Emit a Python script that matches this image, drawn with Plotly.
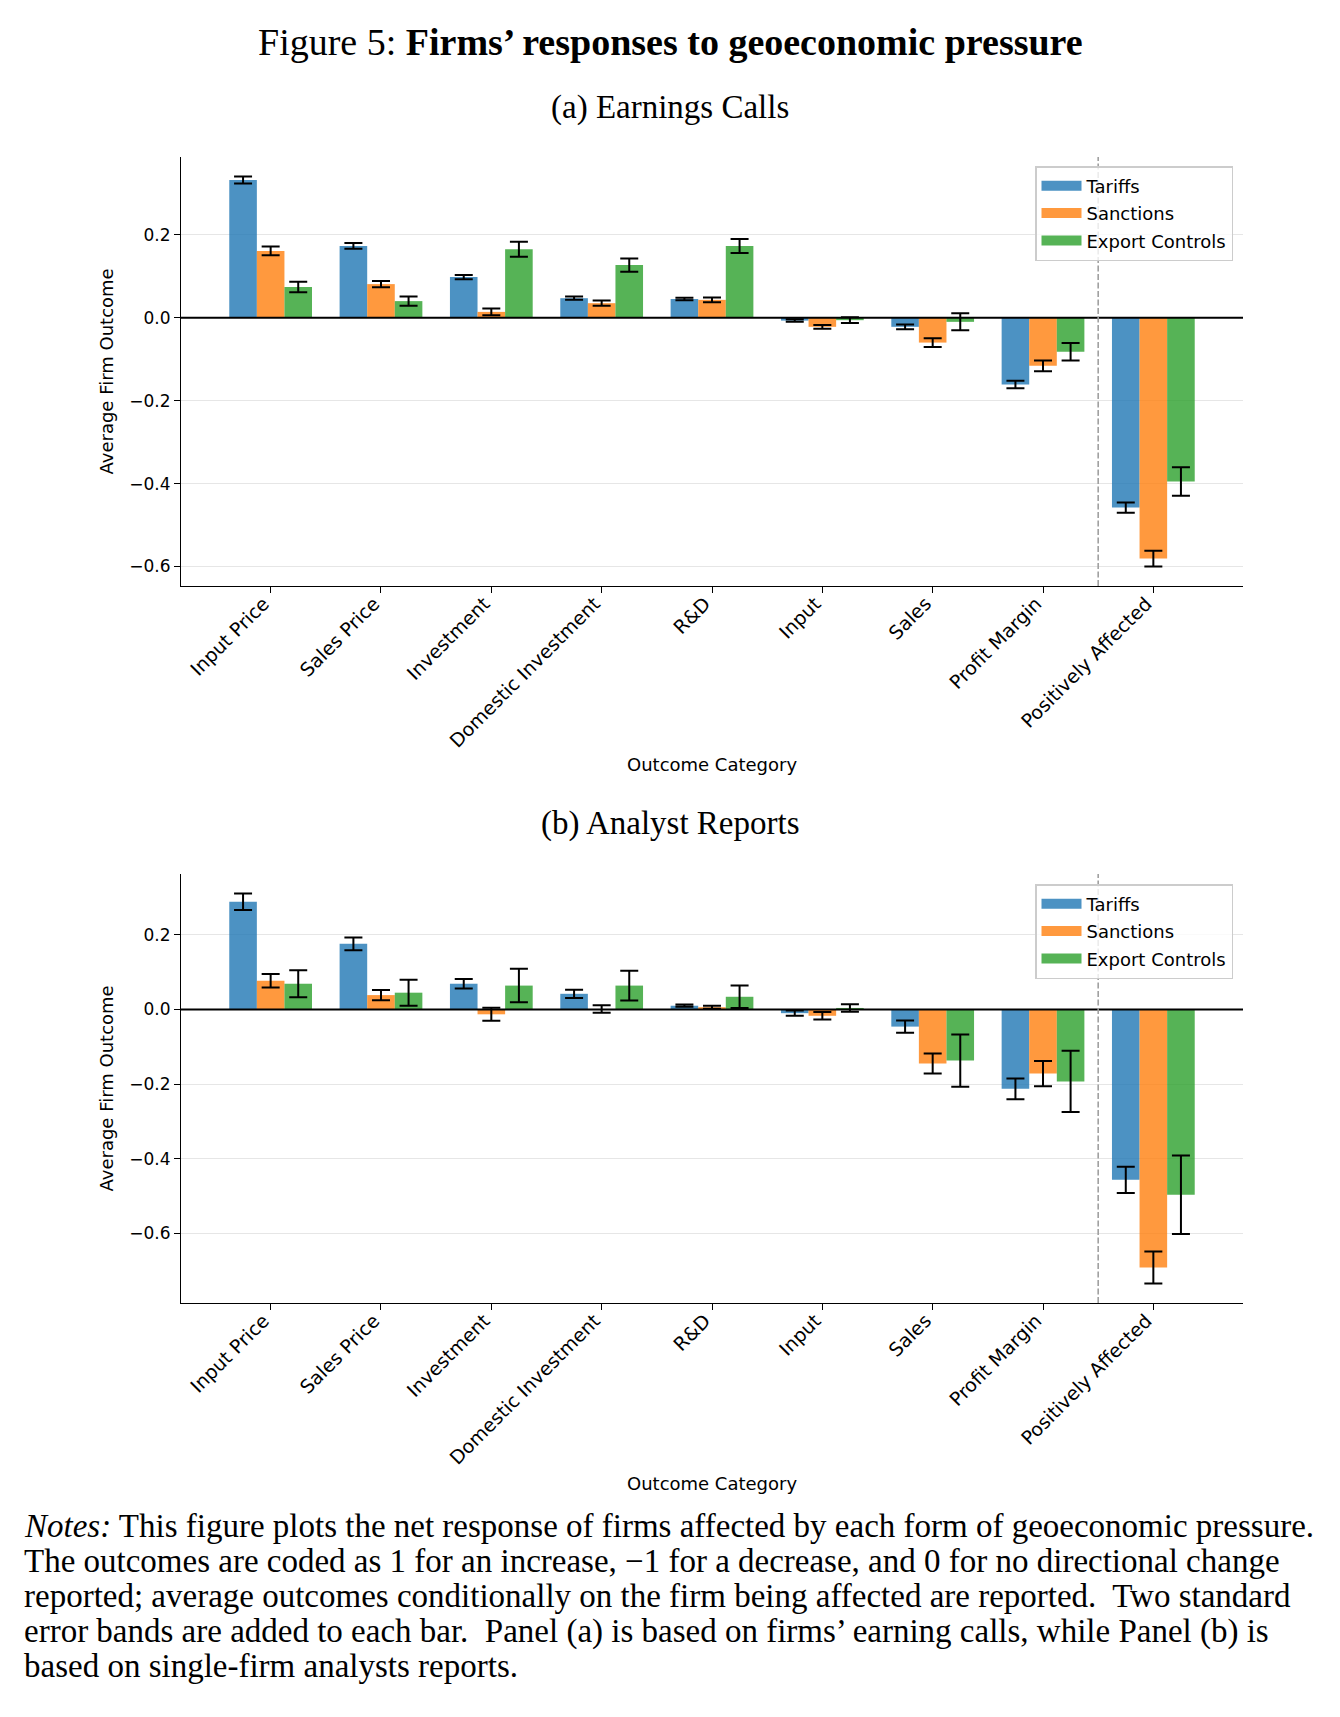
import plotly.graph_objects as go

# categories on the x axis
categories = ["Input Price", "Sales Price", "Investment", "Domestic Investment", "R&D",
              "Input", "Sales", "Profit Margin", "Positively Affected"]
series_names = ["Tariffs", "Sanctions", "Export Controls"]

# panel (a) earnings calls: means and two-s.e. half widths
tariffs_a = [0.332, 0.173, 0.098, 0.047, 0.045, -0.007, -0.022, -0.161, -0.458]
tariffs_a_err = [0.0085, 0.007, 0.005, 0.004, 0.003, 0.003, 0.0056, 0.009, 0.0125]
sanctions_a = [0.161, 0.081, 0.014, 0.035, 0.043, -0.022, -0.060, -0.116, -0.581]
sanctions_a_err = [0.0105, 0.0076, 0.008, 0.0064, 0.0056, 0.0045, 0.0104, 0.013, 0.019]
export_a = [0.074, 0.040, 0.165, 0.127, 0.173, -0.006, -0.010, -0.082, -0.395]
export_a_err = [0.0125, 0.011, 0.018, 0.016, 0.017, 0.007, 0.0205, 0.021, 0.0345]

# panel (b) analyst reports
tariffs_b = [0.289, 0.176, 0.069, 0.042, 0.010, -0.010, -0.046, -0.213, -0.457]
tariffs_b_err = [0.022, 0.017, 0.0125, 0.011, 0.003, 0.007, 0.0166, 0.028, 0.035]
sanctions_b = [0.077, 0.0385, -0.013, 0.001, 0.006, -0.017, -0.145, -0.172, -0.692]
sanctions_b_err = [0.018, 0.014, 0.0175, 0.010, 0.004, 0.010, 0.027, 0.034, 0.043]
export_b = [0.069, 0.045, 0.064, 0.064, 0.034, 0.004, -0.137, -0.193, -0.497]
export_b_err = [0.036, 0.035, 0.045, 0.040, 0.030, 0.010, 0.070, 0.082, 0.105]

y_ticks = [-0.6, -0.4, -0.2, 0.0, 0.2]

notes_lines = [
    "<i>Notes:</i> This figure plots the net response of firms affected by each form of geoeconomic pressure.",
    "The outcomes are coded as 1 for an increase, \u22121 for a decrease, and 0 for no directional change",
    "reported; average outcomes conditionally on the firm being affected are reported.  Two standard",
    "error bands are added to each bar.  Panel (a) is based on firms\u2019 earning calls, while Panel (b) is",
    "based on single-firm analysts reports.",
]

colors = ["rgba(31,119,180,0.8)", "rgba(255,127,14,0.8)", "rgba(44,160,44,0.8)"]
OFF = 8  # the page body margin pushes the plot 8px right and down
W, H = 1340 - OFF, 1717 - OFF
SANS = "DejaVu Sans"
SERIF = "Liberation Serif"


def px(x):
    # page pixel from left -> paper x
    return (x - OFF) / W


def py(y):
    # page pixel from top -> paper y
    return 1 - (y - OFF) / H


fig = go.Figure()

panels = [
    ("x", "y", "legend", [tariffs_a, sanctions_a, export_a], [tariffs_a_err, sanctions_a_err, export_a_err]),
    ("x2", "y2", "legend2", [tariffs_b, sanctions_b, export_b], [tariffs_b_err, sanctions_b_err, export_b_err]),
]

y_ranges = []
for k, (xa, ya, leg, vals, errs) in enumerate(panels):
    for i, name in enumerate(series_names):
        fig.add_trace(go.Bar(
            x=categories, y=vals[i], name=name, showlegend=False,
            marker=dict(color=colors[i], line=dict(width=0)),
            error_y=dict(type="data", array=errs[i], color="black", thickness=2, width=9),
            xaxis=xa, yaxis=ya,
        ))
    # legend entries drawn as wide patches (thick line swatches)
    for i, name in enumerate(series_names):
        fig.add_trace(go.Scatter(
            x=[None], y=[None], mode="lines", name=name,
            line=dict(color=colors[i], width=13),
            xaxis=xa, yaxis=ya, legend=leg, legendgroup=f"{k}{i}",
        ))
    lo = min(v - e for s, es in zip(vals, errs) for v, e in zip(s, es))
    hi = max(v + e for s, es in zip(vals, errs) for v, e in zip(s, es))
    pad = 0.05 * (hi - lo)
    y_ranges.append([lo - pad, hi + pad])

n = len(categories)
x_lo, x_hi = -0.375, n - 1 + 0.375
x_pad = 0.05 * (x_hi - x_lo)
x_range = [x_lo - x_pad, x_hi + x_pad]

x_dom = [px(181), px(1243)]
y_dom_a = [py(586), py(157)]
y_dom_b = [py(1303), py(874)]

xaxis_style = dict(
    type="category", categoryorder="array", categoryarray=categories,
    range=x_range, domain=x_dom, showline=True, linecolor="black", linewidth=1.2,
    ticks="outside", ticklen=6, tickwidth=1.2, tickcolor="black", tickangle=-45,
    ticklabelstandoff=-8, ticklabelshift=-7,
    tickfont=dict(family=SANS, size=19, color="black"), showgrid=False, zeroline=False,
)
yaxis_style = dict(
    tickvals=y_ticks, tickformat=".1f", showline=True, linecolor="black", linewidth=1.2,
    ticks="outside", ticklen=6, tickwidth=1.2, tickcolor="black",
    tickfont=dict(family=SANS, size=17, color="black"), showgrid=True, gridcolor="#e6e6e6",
    gridwidth=1, zeroline=False,
)

legend_style = dict(
    xanchor="right", yanchor="top", bgcolor="rgba(255,255,255,0.8)", bordercolor="#cccccc",
    borderwidth=1.5, font=dict(family=SANS, size=18, color="black"), tracegroupgap=1,
    itemwidth=40,
)

fig.update_layout(
    width=W, height=H, margin=dict(l=0, r=0, t=0, b=0),
    paper_bgcolor="white", plot_bgcolor="white",
    barmode="group", bargap=0.25, bargroupgap=0,
    font=dict(family=SANS, size=18, color="black"),
    xaxis=dict(xaxis_style, anchor="y"),
    yaxis=dict(yaxis_style, domain=y_dom_a, range=y_ranges[0], anchor="x"),
    xaxis2=dict(xaxis_style, anchor="y2"),
    yaxis2=dict(yaxis_style, domain=y_dom_b, range=y_ranges[1], anchor="x2"),
    legend=dict(legend_style, x=px(1233), y=py(166)),
    legend2=dict(legend_style, x=px(1233), y=py(884)),
)

# zero lines and the dashed separator before "Positively Affected"
for xa, ya in [("x", "y"), ("x2", "y2")]:
    fig.add_shape(type="line", xref=f"{xa} domain", yref=ya, x0=0, x1=1, y0=0, y1=0,
                  line=dict(color="black", width=2), layer="above")
    fig.add_shape(type="line", xref=xa, yref=f"{ya} domain", x0=n - 1.5, x1=n - 1.5, y0=0, y1=1,
                  line=dict(color="#a0a0a0", width=1.6, dash="6px,2.5px"), layer="above")

ann = []
ann.append(dict(text="Figure 5: <b>Firms\u2019 responses to geoeconomic pressure</b>",
                x=px(670), y=py(42), font=dict(family=SERIF, size=38, color="black")))
ann.append(dict(text="(a) Earnings Calls", x=px(670), y=py(108),
                font=dict(family=SERIF, size=33, color="black")))
ann.append(dict(text="(b) Analyst Reports", x=px(670), y=py(823),
                font=dict(family=SERIF, size=33, color="black")))
for yc in [(157 + 586) / 2, (874 + 1303) / 2]:
    ann.append(dict(text="Average Firm Outcome", x=px(106), y=py(yc), textangle=-90,
                    font=dict(family=SANS, size=18, color="black")))
for yc in [765, 1483]:
    ann.append(dict(text="Outcome Category", x=px(712), y=py(yc),
                    font=dict(family=SANS, size=18, color="black")))
for i, line in enumerate(notes_lines):
    ann.append(dict(text=line, x=px(22), y=py(1526 + 35 * i), xanchor="left",
                    font=dict(family=SERIF, size=33, color="black")))

for a in ann:
    a.setdefault("xanchor", "center")
    fig.add_annotation(xref="paper", yref="paper", yanchor="middle", showarrow=False, **a)

fig.write_html("out.html")
